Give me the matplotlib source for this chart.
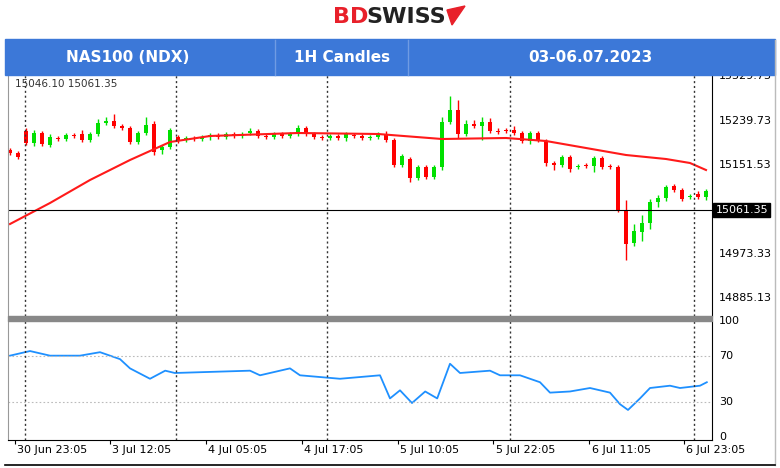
import matplotlib
matplotlib.use("Agg")
import matplotlib.pyplot as plt
from matplotlib.patches import Rectangle, Polygon
import numpy as np

opens = [15181,15175,15219,15195,15215,15191,15205,15203,15211,15213,15201,15213,15235,15239,15229,15225,15197,15215,15233,15181,
         15187,15207,15201,15205,15203,15207,15211,15207,15213,15209,15215,15219,15209,15207,15213,15209,15213,15225,15213,15207,
         15205,15209,15205,15211,15209,15205,15207,15213,15201,15151,15163,15125,15147,15127,15147,15237,15261,15213,15233,15229,
         15237,15219,15221,15221,15215,15199,15215,15199,15155,15151,15167,15147,15151,15149,15165,15149,15147,15061,14995,15017,
         15035,15077,15085,15109,15101,15087,15093,15087]
closes = [15175,15167,15195,15215,15193,15207,15203,15211,15209,15201,15213,15235,15239,15229,15225,15197,15215,15231,15177,15187,
          15221,15199,15205,15203,15207,15211,15207,15213,15209,15213,15219,15209,15207,15213,15209,15213,15225,15213,15207,15205,
          15209,15205,15213,15209,15205,15207,15213,15201,15151,15169,15125,15147,15127,15147,15237,15261,15213,15233,15229,15237,
          15219,15217,15219,15215,15199,15215,15201,15155,15151,15167,15143,15149,15149,15165,15147,15147,15061,14993,15019,15035,
          15077,15085,15107,15101,15083,15089,15087,15099]
wick_up = [4,4,6,6,4,6,4,4,4,8,4,8,8,14,4,4,4,16,6,4,
           4,4,4,4,4,4,4,4,4,4,6,4,4,4,4,4,6,4,4,4,
           4,4,4,4,4,4,4,6,4,4,4,4,4,4,10,28,20,8,8,10,
           8,6,4,8,4,4,4,4,4,4,4,4,4,4,4,4,4,20,14,16,
           6,6,4,4,4,4,6,4]
wick_dn = [4,4,4,6,4,4,4,4,4,4,4,4,4,4,4,4,4,4,6,8,
           4,4,4,4,4,6,4,4,4,4,4,4,4,4,4,4,4,4,4,4,
           4,4,6,4,4,4,4,4,4,4,8,4,4,4,6,4,8,4,4,28,
           4,4,4,4,4,6,4,6,10,4,6,4,4,12,4,4,4,32,6,18,
           12,10,6,4,4,4,4,6]
ma_idx = [0,5,10,15,20,25,36,46,54,62,67,72,77,82,85,87]
ma_val = [15033,15075,15121,15161,15197,15209,15215,15213,15203,15205,15199,15185,15171,15163,15155,15141]
rsi_idx = [0,2.5,5,8.75,11.25,13.75,15,17.5,19.4,20.6,30,31.25,35,36.25,41.25,46.25,47.5,48.75,50.25,51.9,53.4,55,56.25,60,61.25,63.75,66.25,67.5,70,72.5,75,76.25,77.25,78.75,80,82.5,83.75,86.25,87.1]
rsi_val = [70,74,70,70,73,67,59,50,57,55,57,53,59,53,50,53,33,40,29,39,33,63,55,57,53,53,47,38,39,42,38,28,23,33,42,44,42,44,47]
vlines = [1.9,20.75,39.6,62.5,85.5]
xtick_pos = [0.6,12.5,24.5,36.5,48.5,60.4,72.4,84.25]
xtick_lbl = ["30 Jun 23:05","3 Jul 12:05","4 Jul 05:05","4 Jul 17:05","5 Jul 10:05","5 Jul 22:05","6 Jul 11:05","6 Jul 23:05"]
price_ticks = [15329.73,15239.73,15151.53,14973.33,14885.13]
last_price = 15061.35

W, H = 780, 468
fig = plt.figure(figsize=(7.8, 4.68), dpi=100)
fig.patch.set_facecolor("white")
def fr(x0, y0, x1, y1):
    return [x0 / W, 1 - y1 / H, (x1 - x0) / W, (y1 - y0) / H]

# logo
fig.text(333 / W, 1 - 17 / H, "BD", color="#e8202a", fontsize=16, fontweight="bold", va="center", ha="left")
fig.text(366 / W, 1 - 17 / H, "SWISS", color="#222222", fontsize=16, fontweight="bold", va="center", ha="left")
fig.patches.append(Polygon([[447 / W, 1 - 10 / H], [465 / W, 1 - 6 / H], [452 / W, 1 - 25 / H]],
                           closed=True, transform=fig.transFigure, color="#e8202a"))
# header bar
fig.patches.append(Rectangle((5 / W, 1 - 75 / H), 770 / W, 36 / H, transform=fig.transFigure, color="#3c78d8"))
for xd in [275, 408]:
    fig.lines.append(plt.Line2D([xd / W, xd / W], [1 - 75 / H, 1 - 40 / H], transform=fig.transFigure, color="#6f9be3", lw=1))
for xc, t in [(128, "NAS100 (NDX)"), (342, "1H Candles"), (590, "03-06.07.2023")]:
    fig.text(xc / W, 1 - 58 / H, t, color="white", fontsize=11, fontweight="bold", ha="center", va="center")
# right border
fig.lines.append(plt.Line2D([775 / W, 775 / W], [1 - 465 / H, 1 - 40 / H], transform=fig.transFigure, color="#bbbbbb", lw=1))
fig.lines.append(plt.Line2D([5 / W, 775 / W], [1 - 465 / H, 1 - 465 / H], transform=fig.transFigure, color="black", lw=1.2))

ax = fig.add_axes(fr(8, 75, 712, 316))
n = len(opens)
x = np.arange(n)
for i in x:
    o, c = opens[i], closes[i]
    col = "#00e000" if c >= o else "#ff0000"
    hi = max(o, c) + wick_up[i]
    lo = min(o, c) - wick_dn[i]
    ax.vlines(i, lo, hi, color=col, lw=1)
    ax.add_patch(Rectangle((i - 0.3, min(o, c)), 0.6, max(abs(c - o), 1.5), color=col, lw=0))
ax.plot(ma_idx, ma_val, color="#ff1a1a", lw=1.5)
ax.axhline(last_price, color="black", lw=0.8)
for v in vlines:
    ax.axvline(v, color="#333333", ls=(0, (1.5, 2)), lw=1)
ax.set_xlim(-0.25, 87.75)
ax.set_ylim(14849, 15331)
ax.set_xticks([]); ax.set_yticks([])
for s in ["top", "bottom"]:
    ax.spines[s].set_visible(False)
ax.spines["left"].set_color("#999999")
ax.spines["right"].set_color("black")
for p in price_ticks:
    ax.text(1.01, (p - 14849) / (15331 - 14849), f"{p:.2f}", transform=ax.transAxes, fontsize=8, va="center", ha="left", clip_on=False)
ax.text(1.005, (last_price - 14849) / (15331 - 14849), f"{last_price:.2f}", transform=ax.transAxes, fontsize=8,
        va="center", ha="left", color="white", bbox=dict(facecolor="black", edgecolor="black", pad=1.5))
ax.text(0.01, 0.985, "15046.10 15061.35", transform=ax.transAxes, fontsize=7.5, va="top", ha="left", color="#333333")

fig.patches.append(Rectangle((8 / W, 1 - 321 / H), 704 / W, 5 / H, transform=fig.transFigure, color="#888888"))

rx = fig.add_axes(fr(8, 321, 712, 440))
rx.plot(rsi_idx, rsi_val, color="#1e90ff", lw=1.3)
for lv in [70, 30]:
    rx.axhline(lv, color="#bbbbbb", ls=(0, (1.5, 2)), lw=0.8)
for v in vlines:
    rx.axvline(v, color="#333333", ls=(0, (1.5, 2)), lw=1)
rx.set_xlim(-0.25, 87.75)
rx.set_ylim(-3, 100)
rx.set_yticks([])
rx.set_xticks(xtick_pos)
rx.set_xticklabels([])
rx.tick_params(axis="x", length=3, direction="out")
for p, l in zip(xtick_pos, xtick_lbl):
    rx.text(p + 0.3, -0.04, l, transform=rx.get_xaxis_transform(), fontsize=8, ha="left", va="top")
for lv in [100, 70, 30, 0]:
    rx.text(1.01, (lv + 3) / 103, str(lv), transform=rx.transAxes, fontsize=8, va="center", ha="left")
for s in ["top"]:
    rx.spines[s].set_visible(False)
rx.spines["left"].set_color("#999999")

fig.savefig("out.png", dpi=100)
